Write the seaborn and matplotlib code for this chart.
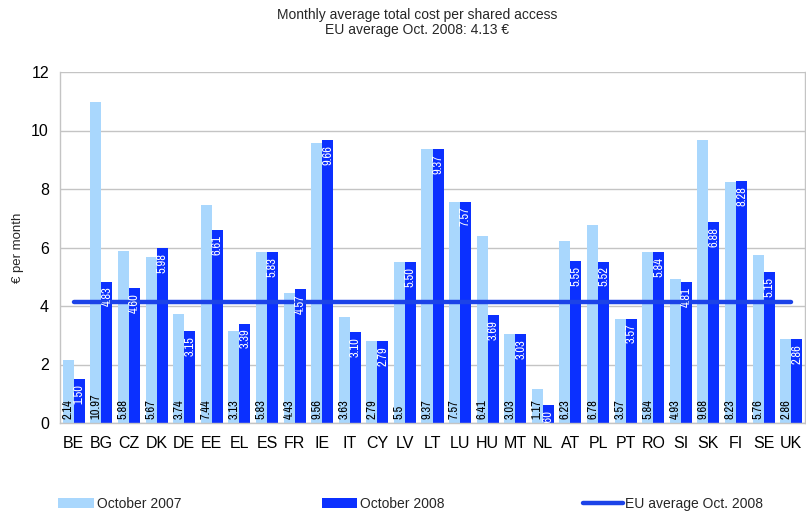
import matplotlib
matplotlib.use("Agg")
import matplotlib.pyplot as plt
from matplotlib import font_manager
from matplotlib.patches import Patch
from matplotlib.lines import Line2D
from matplotlib.ticker import FixedLocator, NullFormatter
import seaborn as sns
import pandas as pd
import numpy as np

countries = ["BE", "BG", "CZ", "DK", "DE", "EE", "EL", "ES", "FR", "IE", "IT", "CY", "LV", "LT",
             "LU", "HU", "MT", "NL", "AT", "PL", "PT", "RO", "SI", "SK", "FI", "SE", "UK"]
oct_2007 = [2.14, 10.97, 5.88, 5.67, 3.74, 7.44, 3.13, 5.83, 4.43, 9.56, 3.63, 2.79, 5.5, 9.37,
            7.57, 6.41, 3.03, 1.17, 6.23, 6.78, 3.57, 5.84, 4.93, 9.68, 8.23, 5.76, 2.86]
oct_2008 = [1.50, 4.83, 4.60, 5.98, 3.15, 6.61, 3.39, 5.83, 4.57, 9.66, 3.10, 2.79, 5.50, 9.37,
            7.57, 3.69, 3.03, 0.60, 5.55, 5.52, 3.57, 5.84, 4.81, 6.88, 8.28, 5.15, 2.86]
eu_avg_2008 = 4.13
series_names = ["October 2007", "October 2008"]
avg_name = "EU average Oct. 2008"

light_blue = "#A9D7FD"
dark_blue = "#0B30FF"
line_blue = "#1C43E8"
grid_grey = "#C4C4C4"

sns.set_theme(style="white")
plt.rcParams["font.family"] = ["Liberation Sans", "DejaVu Sans"]

# narrow face for the value labels inside the bars
installed = {f.name for f in font_manager.fontManager.ttflist}
narrow_family = next((n for n in ["Liberation Sans Narrow", "Archivo Narrow", "Arimo"]
                      if n in installed), "Liberation Sans")

df = pd.DataFrame({
    "country": countries * 2,
    "value": oct_2007 + oct_2008,
    "period": [series_names[0]] * len(countries) + [series_names[1]] * len(countries),
})

fig = plt.figure(figsize=(8.06, 5.13), dpi=100)
ax = fig.add_axes([60 / 806, 90 / 513, 745 / 806, 351 / 513])

sns.barplot(data=df, x="country", y="value", hue="period", order=countries,
            hue_order=series_names, palette=[light_blue, dark_blue], saturation=1,
            width=0.8, linewidth=0, legend=False, errorbar=None, ax=ax, zorder=2)

ax.set_ylim(0, 12)
ax.set_xlim(-0.5, len(countries) - 0.5)
ax.set_yticks(np.arange(0, 13, 2))
ax.yaxis.grid(True, color=grid_grey, linewidth=1, zorder=0)
ax.set_axisbelow(True)
for side in ["left", "right", "top", "bottom"]:
    ax.spines[side].set_color(grid_grey)
    ax.spines[side].set_linewidth(1)
ax.spines["top"].set_visible(False)

ax.tick_params(axis="y", length=0, pad=8, labelsize=11.5, labelcolor="black")
ax.tick_params(axis="x", which="major", length=0, pad=9, labelsize=11.5, labelcolor="black")
ax.xaxis.set_minor_locator(FixedLocator(np.arange(-0.5, len(countries), 1.0)))
ax.xaxis.set_minor_formatter(NullFormatter())
ax.tick_params(axis="x", which="minor", length=4, width=1, color=grid_grey, direction="out")
ax.set_xlabel("")
ax.set_ylabel("€ per month", fontsize=9.5, labelpad=5)

# value labels: 2007 at the foot of each bar, 2008 hanging from the top
c07, c08 = ax.containers[0], ax.containers[1]
for bar, v in zip(c07, oct_2007):
    ax.annotate(format(v, "g"), (bar.get_x() + bar.get_width() / 2, 0),
                xytext=(0, 3), textcoords="offset points", rotation=90,
                ha="center", va="bottom", fontsize=9, family=narrow_family,
                color="black", zorder=5, annotation_clip=True)
for bar, v in zip(c08, oct_2008):
    t = ax.annotate(f"{v:.2f}", (bar.get_x() + bar.get_width() / 2, v),
                    xytext=(0, -3.5), textcoords="offset points", rotation=90,
                    ha="center", va="top", fontsize=9, family=narrow_family,
                    color="white", zorder=5)
    t.set_clip_on(True)

# EU average reference line across all countries
ax.plot([0, len(countries) - 1], [eu_avg_2008, eu_avg_2008], color=line_blue,
        linewidth=3.2, solid_capstyle="round", zorder=4)

fig.text(417 / 806, 1 - 14.5 / 513, "Monthly average total cost per shared access",
         ha="center", va="center", fontsize=10)
fig.text(417 / 806, 1 - 30 / 513, f"EU average Oct. 2008: {eu_avg_2008} €",
         ha="center", va="center", fontsize=10)

legend_items = [
    (Patch(facecolor=light_blue, edgecolor="none"), series_names[0], 58, 2.6),
    (Patch(facecolor=dark_blue, edgecolor="none"), series_names[1], 322, 2.5),
    (Line2D([0], [0], color=line_blue, linewidth=3.2, solid_capstyle="round"), avg_name, 583, 2.85),
]
for handle, label, x0, hl in legend_items:
    fig.legend([handle], [label], loc="center left",
               bbox_to_anchor=(x0 / 806, 1 - 504 / 513), frameon=False, borderaxespad=0,
               borderpad=0, fontsize=10, handlelength=hl, handleheight=0.72,
               handletextpad=0.2)

fig.savefig("out.png", dpi=100)
